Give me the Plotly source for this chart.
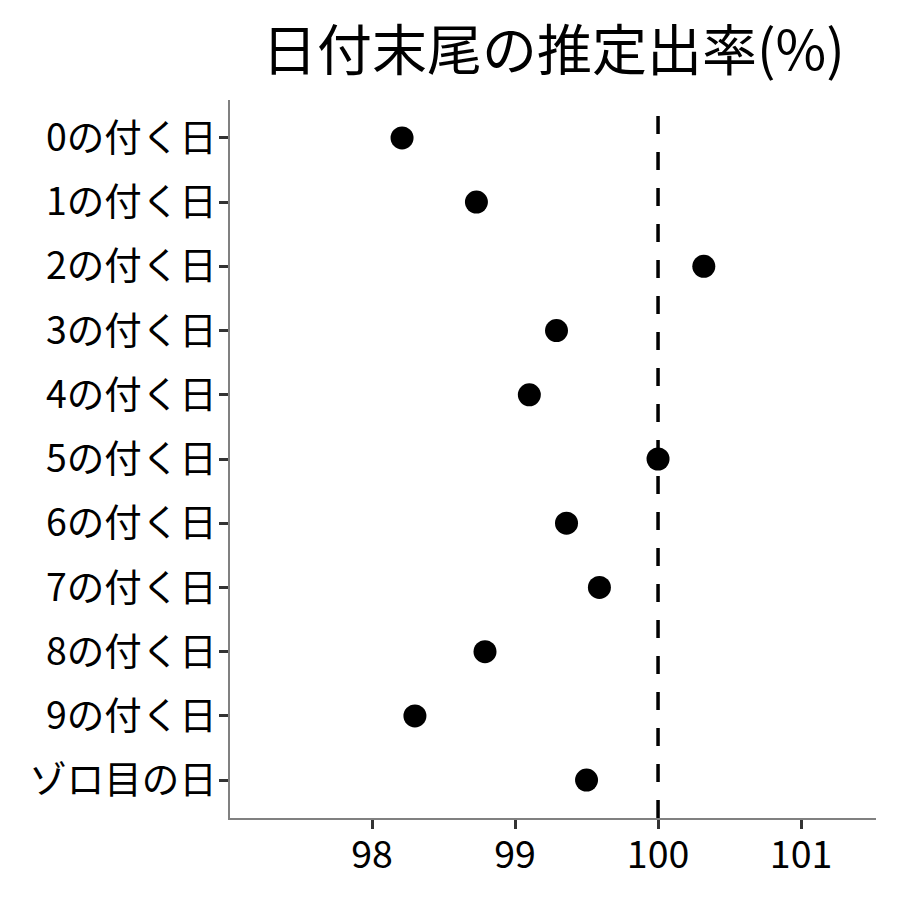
import plotly.graph_objects as go

categories = ["0の付く日", "1の付く日", "2の付く日", "3の付く日", "4の付く日",
              "5の付く日", "6の付く日", "7の付く日", "8の付く日", "9の付く日", "ゾロ目の日"]
rates = [98.21, 98.73, 100.32, 99.29, 99.10, 100.0, 99.36, 99.59, 98.79, 98.30, 99.50]
x_ticks = [98, 99, 100, 101]
ref_value = 100
title_text = "日付末尾の推定出率(%)"

FONT = "Noto Sans CJK JP"

fig = go.Figure()
fig.add_trace(go.Scatter(
    x=rates, y=categories, mode="markers",
    marker=dict(size=23, color="black"),
    showlegend=False, cliponaxis=False,
))
fig.add_shape(type="line", x0=ref_value, x1=ref_value, xref="x", y0=0, y1=1, yref="paper",
              line=dict(color="black", width=3.5, dash="18px,18px"))

fig.add_annotation(text=title_text, x=0.5, xref="paper", xanchor="center",
                   y=1, yref="paper", yanchor="middle", yshift=54, showarrow=False,
                   font=dict(size=55, family=FONT, color="black"))

fig.update_layout(
    width=900, height=900,
    paper_bgcolor="white", plot_bgcolor="white",
    margin=dict(l=222, r=32, t=92, b=90),
    font=dict(family=FONT, color="black"),
    xaxis=dict(range=[97.007, 101.524], tickvals=x_ticks, ticktext=[str(v) for v in x_ticks],
               showgrid=False, zeroline=False, showline=True, linecolor="#808080", linewidth=1.5,
               ticks="outside", ticklen=9, tickwidth=3, tickcolor="#333333",
               ticklabelstandoff=-6,
               tickfont=dict(size=37.5, family=FONT, color="black")),
    yaxis=dict(categoryorder="array", categoryarray=categories, autorange=False,
               range=[10.59, -0.59],
               showgrid=False, zeroline=False, showline=True, linecolor="#808080", linewidth=1.5,
               ticks="outside", ticklen=9, tickwidth=3, tickcolor="#333333",
               ticklabelstandoff=-5,
               tickfont=dict(size=37.5, family=FONT, color="black")),
)

fig.write_html("out.html")
